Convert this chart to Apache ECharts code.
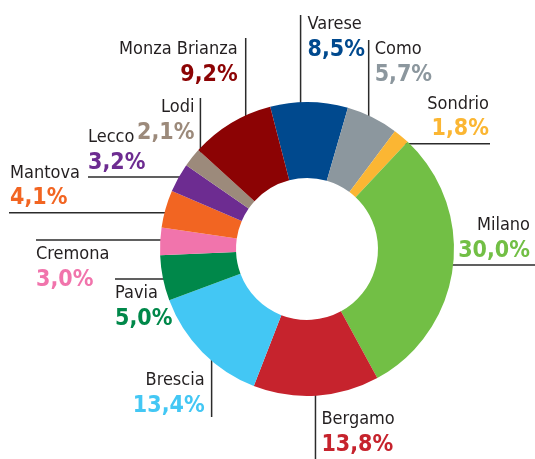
<!DOCTYPE html>
<html>
<head>
<meta charset="utf-8">
<script src="https://cdn.jsdelivr.net/npm/echarts@6/dist/echarts.min.js"></script>
<style>
  html, body { margin: 0; padding: 0; background: #fff; }
  #chart { width: 535px; height: 459px; }
</style>
</head>
<body>
<div id="chart"></div>
<script>
  // quote per provincia (%), in senso orario da Varese
  var province = ['Varese', 'Como', 'Sondrio', 'Milano', 'Bergamo', 'Brescia', 'Pavia', 'Cremona', 'Mantova', 'Lecco', 'Lodi', 'Monza Brianza']
  var quote = [8.5, 5.7, 1.8, 30.0, 13.8, 13.4, 5.0, 3.0, 4.1, 3.2, 2.1, 9.2]
  var colori = ['#00498e', '#8c979e', '#fbb633', '#72bf45', '#c6232d', '#43c7f4', '#00884a', '#f174ac', '#f26522', '#6d2c91', '#9c8a7b', '#8c0304']

  // etichette: t = punto nella fetta (0..1), r = raggio di partenza della linea
  // dir = verso della linea, end = dove finisce, side/gap = posizione del testo
  var callout = [
    { t: 0.38, r: 129, dir: 'v', end: 15, align: 'left', gap: 7, capTop: 17 },
    { t: 0.58, r: 131, dir: 'v', end: 40, align: 'left', gap: 6, capTop: 42 },
    { t: 0.69, r: 140, dir: 'h', end: 490, align: 'right', x: 489, side: 'above' },
    { t: 0.50, r: 126, dir: 'h', end: 540, align: 'right', x: 530, side: 'above' },
    { t: 0.50, r: 132, dir: 'v', end: 459, align: 'left', gap: 6, capTop: 412 },
    { t: 0.50, r: 134, dir: 'v', end: 417, align: 'right', gap: 7, capTop: 373 },
    { t: 0.40, r: 131, dir: 'h', end: 115, align: 'left', x: 115, side: 'below' },
    { t: 0.59, r: 129, dir: 'h', end: 36, align: 'left', x: 36, side: 'below' },
    { t: 0.51, r: 132, dir: 'h', end: 9, align: 'left', x: 10, side: 'above' },
    { t: 0.88, r: 131, dir: 'h', end: 88, align: 'left', x: 88, side: 'above' },
    { t: 0.62, r: 138, dir: 'v', end: 98, align: 'right', gap: 6, capTop: 100 },
    { t: 0.61, r: 133, dir: 'v', end: 38, align: 'right', gap: 8, capTop: 42 }
  ]

  var cx = 307, cy = 249
  var startAngle = 104.5
  var font = "'Liberation Sans Narrow', 'DejaVu Sans Condensed', 'Roboto Condensed', sans-serif"
  var CAP = 4.8   // top of block -> top of name capitals
  var BASE = 45.2 // top of block -> baseline of percentage

  var total = quote.reduce(function (s, v) { return s + v }, 0)
  var cum = []
  quote.reduce(function (s, v, i) { cum[i] = s; return s + v }, 0)

  var rich = { n: { fontFamily: font, fontSize: 18, color: '#231f20', lineHeight: 25 } }
  colori.forEach(function (c, i) {
    rich['p' + i] = { fontFamily: font, fontSize: 23, fontWeight: 'bold', color: c, lineHeight: 26 }
  })

  var data = province.map(function (name, i) {
    return { name: name, value: quote[i], itemStyle: { color: colori[i] } }
  })

  function labelLayout (params) {
    var i = params.dataIndex
    var c = callout[i]
    var a = -startAngle * Math.PI / 180 + (cum[i] + quote[i] * c.t) / total * Math.PI * 2
    var sx = cx + c.r * Math.cos(a)
    var sy = cy + c.r * Math.sin(a)
    var ex, ey, lx, ly
    if (c.dir === 'v') {
      ex = sx; ey = c.end
      lx = c.align === 'left' ? sx + c.gap : sx - c.gap
      ly = c.capTop - CAP
    } else {
      ex = c.end; ey = sy
      lx = c.x
      ly = c.side === 'above' ? sy - 7 - BASE : sy + 7 - CAP
    }
    return {
      x: lx,
      y: ly,
      align: c.align,
      verticalAlign: 'top',
      labelLinePoints: [[sx, sy], [ex, ey], [ex, ey]]
    }
  }

  var chart = echarts.init(document.getElementById('chart'))
  chart.setOption({
    backgroundColor: '#fff',
    animation: false,
    series: [
      {
        type: 'pie',
        center: [cx, cy],
        radius: [71, 147],
        startAngle: startAngle,
        avoidLabelOverlap: false,
        data: data,
        label: {
          show: true,
          position: 'outside',
          overflow: 'none',
          formatter: function (p) {
            return '{n|' + p.name + '}\n{p' + p.dataIndex + '|' + p.value.toFixed(1).replace('.', ',') + '%}'
          },
          rich: rich
        },
        labelLine: {
          show: true,
          length: 10,
          length2: 10,
          lineStyle: { color: '#2b2b2b', width: 1.5 }
        },
        labelLayout: labelLayout,
        emphasis: { disabled: true }
      }
    ]
  })
</script>
</body>
</html>
